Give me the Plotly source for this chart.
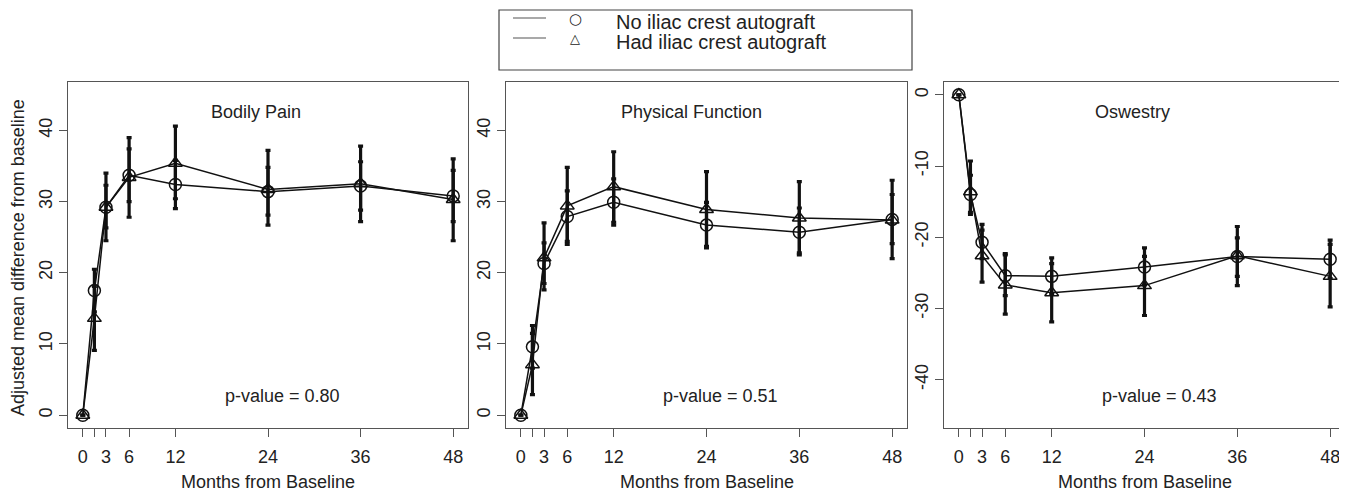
import plotly.graph_objects as go

# reference canvas size and page offset (browser body margin)
REF_W, REF_H = 1347, 492
OFF = 8
W, H = REF_W - OFF, REF_H - OFF

months = [0, 1.5, 3, 6, 12, 24, 36, 48]
tick_vals = [0, 1.5, 3, 6, 12, 24, 36, 48]
tick_text = ["0", "", "3", "6", "12", "24", "36", "48"]

# Bodily Pain
bp_no = [0, 17.5, 29.2, 33.7, 32.4, 31.4, 32.2, 30.8]
bp_no_lo = [0, 14.5, 26.3, 30.0, 29.0, 28.1, 28.8, 27.2]
bp_no_hi = [0, 20.5, 32.3, 37.4, 35.8, 34.8, 35.6, 34.4]
bp_had = [0, 13.6, 29.2, 33.4, 35.4, 31.7, 32.5, 30.3]
bp_had_lo = [0, 9.1, 24.5, 27.8, 30.4, 26.7, 27.2, 24.5]
bp_had_hi = [0, 18.1, 34.0, 39.0, 40.6, 37.2, 37.8, 36.0]

# Physical Function
pf_no = [0, 9.6, 21.3, 27.9, 29.9, 26.7, 25.7, 27.5]
pf_no_lo = [0, 6.6, 18.5, 24.4, 26.7, 23.5, 22.5, 24.1]
pf_no_hi = [0, 12.6, 24.2, 31.5, 33.2, 29.9, 29.1, 31.0]
pf_had = [0, 7.1, 22.1, 29.4, 32.1, 28.9, 27.7, 27.4]
pf_had_lo = [0, 2.9, 17.6, 24.0, 27.1, 23.7, 22.8, 22.0]
pf_had_hi = [0, 11.5, 27.0, 34.8, 37.0, 34.2, 32.8, 33.0]

# Oswestry
od_no = [0, -14.0, -20.7, -25.4, -25.5, -24.2, -22.7, -23.1]
od_no_lo = [0, -16.8, -23.0, -28.2, -28.0, -26.7, -25.5, -25.8]
od_no_hi = [0, -11.3, -18.2, -22.3, -22.9, -21.5, -20.1, -20.4]
od_had = [0, -13.6, -22.6, -26.7, -27.8, -26.8, -22.6, -25.5]
od_had_lo = [0, -16.5, -26.3, -30.8, -31.9, -31.0, -26.8, -29.8]
od_had_hi = [0, -9.3, -19.0, -22.5, -23.7, -22.7, -18.5, -21.0]

pos_ticks = [0, 10, 20, 30, 40]
pos_tick_text = ["0", "10", "20", "30", "40"]
neg_ticks = [0, -10, -20, -30, -40]
neg_tick_text = ["0", "-10", "-20", "-30", "-40"]

panels = [
    ("Bodily Pain", "p-value = 0.80", bp_no, bp_no_lo, bp_no_hi, bp_had, bp_had_lo, bp_had_hi,
     [-1.8, 46.8], pos_ticks, pos_tick_text, 22.4, 42.6, 25.9, 2.7),
    ("Physical Function", "p-value = 0.51", pf_no, pf_no_lo, pf_no_hi, pf_had, pf_had_lo, pf_had_hi,
     [-1.8, 46.8], pos_ticks, pos_tick_text, 22.0, 42.6, 25.8, 2.7),
    ("Oswestry", "p-value = 0.43", od_no, od_no_lo, od_no_hi, od_had, od_had_lo, od_had_hi,
     [-46.8, 1.8], neg_ticks, neg_tick_text, 22.5, -2.4, 25.9, -42.3),
]

legend_labels = ["No iliac crest autograft", "Had iliac crest autograft"]

FONT = "Liberation Sans, Arial, sans-serif"
INK = "#111111"
TXT = "#222222"
BOX = "#555555"


def PX(x):
    return (x - OFF) / W


def PY(y):
    return (H - (y - OFF)) / H


x_doms = [(68, 468), (506, 907), (944, 1345)]
y_dom = [PY(428), PY(82)]

fig = go.Figure()
annotations = []
shapes = []

for i, (title, ptxt, yn, yn_lo, yn_hi, yh, yh_lo, yh_hi, yr, yt, ytt, tx, ty, px, py) in enumerate(panels):
    ax = "" if i == 0 else str(i + 1)
    for vals, lo, hi, sym in [(yn, yn_lo, yn_hi, "circle-open"), (yh, yh_lo, yh_hi, "triangle-up-open")]:
        plus = [h - v for v, h in zip(vals, hi)]
        minus = [v - l for v, l in zip(vals, lo)]
        fig.add_trace(go.Scatter(
            x=months, y=vals, mode="lines+markers",
            xaxis="x" + ax, yaxis="y" + ax,
            line=dict(color=INK, width=1.5),
            marker=dict(symbol=sym, size=12, color=INK, line=dict(width=1.5, color=INK)),
            error_y=dict(type="data", array=plus, arrayminus=minus, visible=True,
                         color=INK, thickness=3.2, width=2.5),
            showlegend=False, hoverinfo="skip",
        ))
    x0, x1 = x_doms[i]
    common_axis = dict(showline=True, mirror=True, linecolor=BOX, linewidth=1,
                       ticks="outside", ticklen=8, tickcolor=BOX, tickwidth=1,
                       showgrid=False, zeroline=False,
                       tickfont=dict(family=FONT, size=18, color=TXT))
    fig.update_layout(**{
        "xaxis" + ax: dict(domain=[PX(x0), PX(x1)], range=[-1.92, 49.92],
                           tickmode="array", tickvals=tick_vals, ticktext=tick_text,
                           ticklabelstandoff=4, anchor="y" + ax, **common_axis),
        "yaxis" + ax: dict(domain=y_dom, range=yr, tickmode="array", tickvals=yt, ticktext=ytt,
                           tickangle=-90, anchor="x" + ax, **common_axis),
    })
    annotations.append(dict(x=tx, y=ty, xref="x" + ax, yref="y" + ax, text=title,
                            xanchor="center", yanchor="middle",
                            showarrow=False, font=dict(family=FONT, size=18, color=TXT)))
    annotations.append(dict(x=px, y=py, xref="x" + ax, yref="y" + ax, text=ptxt,
                            xanchor="center", yanchor="middle",
                            showarrow=False, font=dict(family=FONT, size=18, color=TXT)))
    annotations.append(dict(x=PX((x0 + x1) / 2), y=PY(482), xref="paper", yref="paper",
                            xanchor="center", yanchor="middle",
                            text="Months from Baseline", showarrow=False,
                            font=dict(family=FONT, size=18, color=TXT)))

annotations.append(dict(x=PX(18), y=PY(258), xref="paper", yref="paper",
                        xanchor="center", yanchor="middle",
                        text="Adjusted mean difference from baseline", textangle=-90,
                        showarrow=False, font=dict(family=FONT, size=18, color=TXT)))

# legend (drawn manually)
shapes.append(dict(type="rect", xref="paper", yref="paper", x0=PX(499), x1=PX(912),
                   y0=PY(70), y1=PY(10),
                   line=dict(color="#444444", width=1.2), fillcolor="white"))
for lab, glyph, gsize, yy in [(legend_labels[0], "○", 15, 19), (legend_labels[1], "△", 13, 39)]:
    shapes.append(dict(type="line", xref="paper", yref="paper", x0=PX(513), x1=PX(546),
                       y0=PY(yy - 1), y1=PY(yy - 1),
                       line=dict(color="#555555", width=1.2)))
    annotations.append(dict(x=PX(575), y=PY(yy), xref="paper", yref="paper", text=glyph,
                            xanchor="center", yanchor="middle", showarrow=False,
                            font=dict(family="DejaVu Sans", size=gsize, color=TXT)))
    annotations.append(dict(x=PX(614), y=PY(yy + 2.5), xref="paper", yref="paper", text=lab,
                            showarrow=False, xanchor="left", yanchor="middle",
                            font=dict(family=FONT, size=20, color=TXT)))

fig.update_layout(width=W, height=H, margin=dict(l=0, r=0, t=0, b=0),
                  paper_bgcolor="white", plot_bgcolor="white",
                  annotations=annotations, shapes=shapes, showlegend=False)

fig.write_html("out.html")
